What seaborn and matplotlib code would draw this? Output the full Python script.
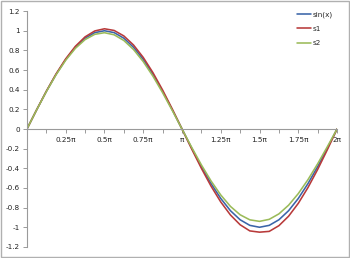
import numpy as np
import pandas as pd
import seaborn as sns
import matplotlib
matplotlib.use("Agg")
import matplotlib.pyplot as plt
from matplotlib.patches import Rectangle

# x positions in units of pi (k/16 for k = 0..32)
x_pi = [k / 16 for k in range(33)]

sin_vals = [0, 0.1951, 0.3827, 0.5556, 0.7071, 0.8315, 0.9239, 0.9808, 1.0,
            0.9808, 0.9239, 0.8315, 0.7071, 0.5556, 0.3827, 0.1951, 0,
            -0.1951, -0.3827, -0.5556, -0.7071, -0.8315, -0.9239, -0.9808, -1.0,
            -0.9808, -0.9239, -0.8315, -0.7071, -0.5556, -0.3827, -0.1951, 0]
s1_vals = [0, 0.1956, 0.3846, 0.5598, 0.7142, 0.8419, 0.9378, 0.9980, 1.02,
           1.0029, 0.9470, 0.8544, 0.7283, 0.5737, 0.3961, 0.2024, 0,
           -0.2034, -0.3999, -0.5820, -0.7425, -0.8752, -0.9747, -1.0372, -1.05,
           -1.0421, -0.9840, -0.8876, -0.7566, -0.5959, -0.4114, -0.2102, 0]
s2_vals = [0, 0.1946, 0.3808, 0.5514, 0.7000, 0.8211, 0.9100, 0.9636, 0.98,
           0.9587, 0.9008, 0.8086, 0.6859, 0.5375, 0.3693, 0.1878, 0,
           -0.1868, -0.3655, -0.5292, -0.6717, -0.7878, -0.8731, -0.9244, -0.94,
           -0.9195, -0.8638, -0.7754, -0.6576, -0.5153, -0.3540, -0.1800, 0]

series_names = ["sin(x)", "s1", "s2"]
colors = ["#3A64A8", "#B83A3A", "#9BBB59"]

x_tick_vals = [0.25, 0.5, 0.75, 1.0, 1.25, 1.5, 1.75, 2.0]
x_tick_labels = ["0.25π", "0.5π", "0.75π", "π", "1.25π", "1.5π", "1.75π", "2π"]
y_tick_vals = [-1.2, -1.0, -0.8, -0.6, -0.4, -0.2, 0, 0.2, 0.4, 0.6, 0.8, 1.0, 1.2]
y_tick_labels = ["-1.2", "-1", "-0.8", "-0.6", "-0.4", "-0.2", "0", "0.2", "0.4",
                 "0.6", "0.8", "1", "1.2"]

df = pd.concat([
    pd.DataFrame({"x": x_pi, "y": vals, "series": name})
    for name, vals in zip(series_names, [sin_vals, s1_vals, s2_vals])
])

sns.set_style("white")
plt.rcParams["font.family"] = ["DejaVu Sans"]

fig = plt.figure(figsize=(3.5, 2.58), dpi=100)
ax = fig.add_axes([0.077, 0.043, 0.886, 0.914])

sns.lineplot(data=df, x="x", y="y", hue="series", palette=colors,
             linewidth=1.15, ax=ax, sort=False)

ax.set_xlim(0, 2)
ax.set_ylim(-1.2, 1.2)
ax.set_xlabel("")
ax.set_ylabel("")

for s in ["top", "right"]:
    ax.spines[s].set_visible(False)
ax.spines["bottom"].set_position(("data", 0))
ax.spines["left"].set_color("#9a9a9a")
ax.spines["bottom"].set_color("#9a9a9a")
ax.spines["left"].set_linewidth(0.8)
ax.spines["bottom"].set_linewidth(0.8)

ax.set_xticks(x_tick_vals)
ax.set_xticklabels(x_tick_labels)
ax.set_xticks([0, 0.125, 0.375, 0.625, 0.875, 1.125, 1.375, 1.625, 1.875], minor=True)
ax.set_yticks(y_tick_vals)
ax.set_yticklabels(y_tick_labels)
ax.tick_params(axis="both", which="both", direction="out", length=3, width=0.7,
               color="#9a9a9a", labelsize=5.2, labelcolor="#222222", pad=2,
               bottom=True, left=True)
ax.tick_params(axis="x", which="major", pad=3)

leg = ax.legend(loc="upper left", bbox_to_anchor=(297 / 350, 1 - 11 / 258),
                bbox_transform=fig.transFigure, frameon=False,
                fontsize=5.2, handlelength=1.9, handletextpad=0.3,
                labelspacing=1.15, borderaxespad=0, borderpad=0)

fig.patches.append(Rectangle((0.0015, 0.002), 0.997, 0.996, transform=fig.transFigure,
                             fill=False, edgecolor="#b0b0b0", linewidth=1.0))

fig.savefig("out.png", dpi=100)
